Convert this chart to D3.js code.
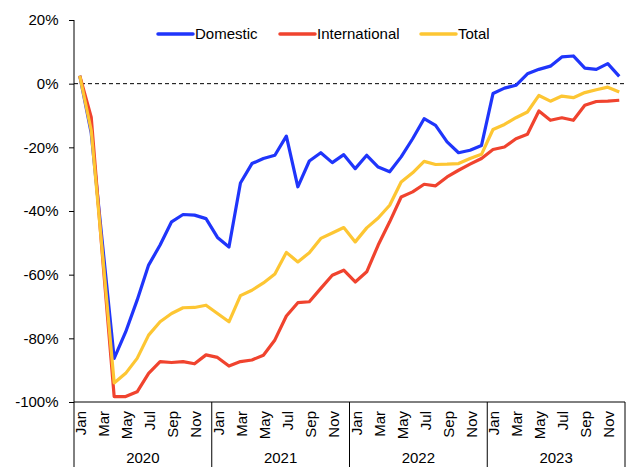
<!DOCTYPE html>
<html>
<head>
<meta charset="utf-8">
<script src="https://cdn.jsdelivr.net/npm/d3@7"></script>
<style>
  body { margin: 0; background: #fff; }
  svg { display: block; font-family: "Liberation Sans", Arial, sans-serif; }
</style>
</head>
<body>
<div id="chart"></div>
<script>
const years = ["2020", "2021", "2022", "2023"];
const monthNames = ["Jan", "Feb", "Mar", "Apr", "May", "Jun", "Jul", "Aug", "Sep", "Oct", "Nov", "Dec"];
const yTicks = [20, 0, -20, -40, -60, -80, -100];

const domestic = [
  2.5, -15.5, -51, -86.3, -78, -68, -57, -50.7, -43.4, -41.1, -41.3, -42.4,
  -48.3, -51.3, -31.2, -25.1, -23.5, -22.5, -16.5, -32.4, -24.3, -21.7, -24.8, -22.3,
  -26.7, -22.5, -26.2, -27.7, -23, -17.3, -11, -13.1, -18.3, -21.7, -20.9, -19.4,
  -3.1, -1.4, -0.5, 3.1, 4.5, 5.5, 8.4, 8.7, 4.9, 4.5, 6.3, 2.3
];
const international = [
  2.5, -10.5, -55, -98.3, -98.3, -96.8, -91, -87.3, -87.6, -87.3, -88, -85.2,
  -86, -88.7, -87.3, -86.8, -85.3, -80.5, -73, -68.8, -68.5, -64.3, -60.2, -58.6,
  -62.3, -59.1, -50.7, -43.4, -35.6, -34, -31.6, -32.1, -29.3, -27.2, -25.3, -23.5,
  -20.7, -19.9, -17.3, -15.9, -8.6, -11.5, -10.7, -11.5, -6.8, -5.6, -5.5, -5.2
];
const total = [
  2.5, -14.7, -54, -94, -91, -86.3, -79, -74.8, -72.2, -70.4, -70.3, -69.6,
  -72.2, -74.8, -66.6, -64.9, -62.6, -59.8, -53, -56, -53.1, -48.6, -46.9, -45.2,
  -49.7, -45.3, -42.2, -38.2, -30.9, -28, -24.4, -25.4, -25.3, -25.1, -23.5, -22.2,
  -14.4, -12.8, -10.7, -8.9, -3.7, -5.5, -3.9, -4.4, -2.8, -1.9, -1.1, -2.6
];

const series = [
  { name: "Domestic", values: domestic, color: "#1f35fb" },
  { name: "International", values: international, color: "#f0432e" },
  { name: "Total", values: total, color: "#fdc633" }
];

const width = 630, height = 467;
const margin = { left: 74, right: 625, top: 20, bottom: 402 };

// one band per month, 48 in all
const months = [];
years.forEach(y => monthNames.forEach(m => months.push({ year: y, month: m })));

const x = d3.scaleBand()
  .domain(d3.range(months.length))
  .range([margin.left, margin.right])
  .padding(0);
const cx = i => x(i) + x.bandwidth() / 2;

const y = d3.scaleLinear().domain([-100, 20]).range([margin.bottom, margin.top]);

const svg = d3.select("#chart").append("svg")
  .attr("width", width)
  .attr("height", height);

// y axis
const yAxis = svg.append("g")
  .attr("transform", `translate(${margin.left},0)`)
  .call(d3.axisLeft(y).tickValues(yTicks).tickFormat(d => d + "%").tickSize(5).tickPadding(10.5));
yAxis.select(".domain").remove();
yAxis.selectAll("line").attr("stroke", "#000");
yAxis.selectAll("text").attr("font-size", 15).attr("fill", "#000")
  .attr("font-family", "Liberation Sans, Arial, sans-serif");

svg.append("line")
  .attr("x1", margin.left).attr("x2", margin.left)
  .attr("y1", margin.top).attr("y2", height)
  .attr("stroke", "#000").attr("stroke-width", 1);

// bottom axis line
svg.append("line")
  .attr("x1", margin.left).attr("x2", margin.right)
  .attr("y1", margin.bottom).attr("y2", margin.bottom)
  .attr("stroke", "#000");

// zero line
svg.append("line")
  .attr("x1", margin.left).attr("x2", margin.right)
  .attr("y1", y(0)).attr("y2", y(0))
  .attr("stroke", "#000")
  .attr("stroke-dasharray", "4,3");

// year separators
years.forEach((yr, k) => {
  const xe = x(k * 12 + 11) + x.bandwidth();
  const xs = x(k * 12);
  svg.append("line")
    .attr("x1", xe).attr("x2", xe)
    .attr("y1", margin.bottom).attr("y2", height)
    .attr("stroke", "#000");
  svg.append("text")
    .attr("x", (xs + xe) / 2)
    .attr("y", 463)
    .attr("text-anchor", "middle")
    .attr("font-size", 15)
    .text(yr);
});

// month labels, every other month
svg.append("g").selectAll("text")
  .data(months.map((m, i) => ({ ...m, i })).filter(d => d.i % 2 === 0))
  .join("text")
  .attr("transform", d => `translate(${cx(d.i) + 6.5},411) rotate(-90)`)
  .attr("text-anchor", "end")
  .attr("font-size", 15)
  .text(d => d.month);

// lines
const line = d3.line()
  .x((d, i) => cx(i))
  .y(d => y(d));

svg.append("g").selectAll("path")
  .data(series)
  .join("path")
  .attr("d", d => line(d.values))
  .attr("fill", "none")
  .attr("stroke", d => d.color)
  .attr("stroke-width", 3.2)
  .attr("stroke-linejoin", "round");

// legend
const legendX = [158, 280, 421];
const legend = svg.append("g").selectAll("g")
  .data(series)
  .join("g")
  .attr("transform", (d, i) => `translate(${legendX[i]},34)`);
legend.append("line")
  .attr("x1", 0).attr("x2", 35)
  .attr("stroke", d => d.color)
  .attr("stroke-width", 3.5)
  .attr("stroke-linecap", "round");
legend.append("text")
  .attr("x", 37)
  .attr("dy", "0.35em")
  .attr("font-size", 15)
  .text(d => d.name);
</script>
</body>
</html>
